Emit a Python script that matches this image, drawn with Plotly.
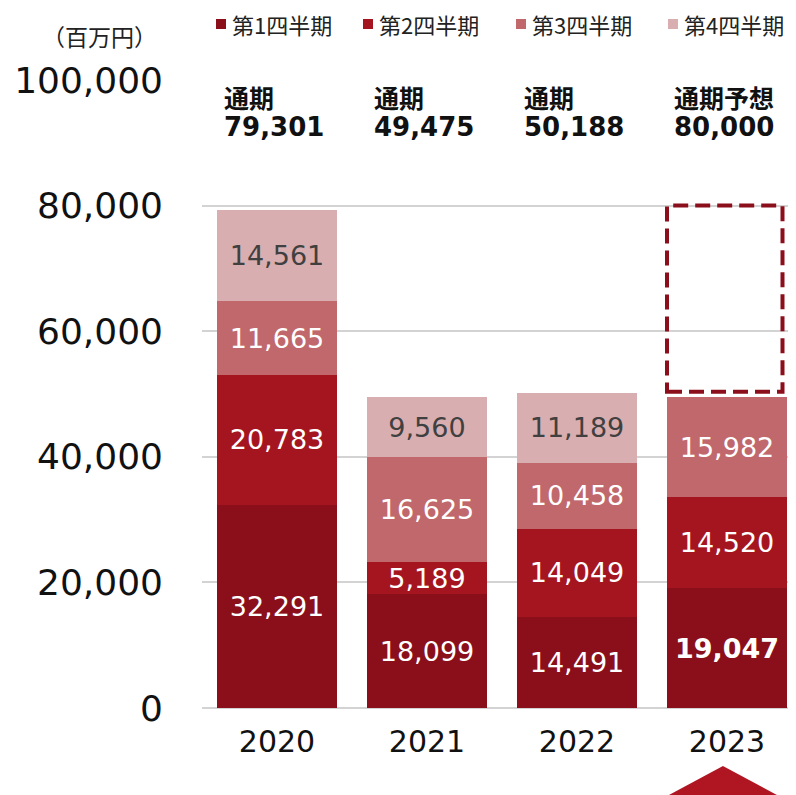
import plotly.graph_objects as go

years = ["2020", "2021", "2022", "2023"]
q1 = [32291, 18099, 14491, 19047]
q2 = [20783, 5189, 14049, 14520]
q3 = [11665, 16625, 10458, 15982]
q4 = [14561, 9560, 11189, None]
series_names = ["第1四半期", "第2四半期", "第3四半期", "第4四半期"]
total_labels = ["通期", "通期", "通期", "通期予想"]
totals = [79301, 49475, 50188, 80000]
forecast_index = 3
y_ticks = [0, 20000, 40000, 60000, 80000, 100000]

colors = ["#8A0F1A", "#A5151F", "#C0686B", "#D9AEB0"]
text_colors = ["white", "white", "white", "#404040"]
FONT = "DejaVu Sans, Noto Sans CJK JP, sans-serif"
CJK = "Noto Sans CJK JP, DejaVu Sans, sans-serif"

# page offset of the plotly div (body margin) is 8px
PL, PT, PW, PH = 202, 80, 594, 628  # plot area in page pixels

fig = go.Figure()
for k, vals in enumerate([q1, q2, q3, q4]):
    texts = []
    for i, v in enumerate(vals):
        if v is None:
            texts.append("")
        elif k == 0 and i == forecast_index:
            texts.append("<b>{:,}</b>".format(v))
        else:
            texts.append("{:,}".format(v))
    fig.add_trace(go.Bar(
        x=years, y=vals, name=series_names[k],
        marker=dict(color=colors[k], line=dict(width=0)),
        text=texts, textposition="inside", insidetextanchor="middle",
        textangle=0, constraintext="none",
        textfont=dict(family=FONT, size=27, color=text_colors[k]),
        hoverinfo="skip", showlegend=False,
    ))

# forecast dashed box
base_2023 = q1[forecast_index] + q2[forecast_index] + q3[forecast_index]
fig.add_shape(type="rect", xref="x", yref="y",
              x0=forecast_index - 0.4, x1=forecast_index + 0.37,
              y0=base_2023 + 800, y1=totals[forecast_index],
              line=dict(color="#8A0F1A", width=4, dash="15px,7px"),
              fillcolor="rgba(0,0,0,0)", layer="above")


def px_x(p):
    return (p - PL) / PW


def px_y(p):
    return (PT + PH - p) / PH


# triangle marker under 2023
fig.add_shape(type="path", xref="x", yref="paper",
              path="M {a},{ya} L {b},{yb} L {c},{yb} Z".format(
                  a=forecast_index - 0.027, ya=px_y(766),
                  b=forecast_index - 0.387, c=forecast_index + 0.333, yb=px_y(795)),
              fillcolor="#B01622", line=dict(width=0), layer="above")

annotations = []
for i, yr in enumerate(years):
    annotations.append(dict(x=i - 0.37, y=px_y(97), xref="x", yref="paper",
                            text="<b>" + total_labels[i] + "</b>", showarrow=False,
                            xanchor="left", yanchor="middle",
                            font=dict(family=CJK, size=25, color="#111111")))
    annotations.append(dict(x=i - 0.37, y=px_y(127), xref="x", yref="paper",
                            text="<b>{:,}</b>".format(totals[i]), showarrow=False,
                            xanchor="left", yanchor="middle",
                            font=dict(family=FONT, size=26, color="#111111")))

# legend (squares + labels)
leg_px = [216, 363, 516, 668]
for k, name in enumerate(series_names):
    fig.add_shape(type="rect", xref="paper", yref="paper",
                  x0=px_x(leg_px[k]), x1=px_x(leg_px[k] + 10),
                  y0=px_y(29), y1=px_y(19),
                  fillcolor=colors[k], line=dict(width=0))
    annotations.append(dict(x=px_x(leg_px[k] + 14), y=px_y(24),
                            xref="paper", yref="paper", text=name, showarrow=False,
                            xanchor="left", yanchor="middle",
                            font=dict(family=CJK, size=22, color="#222222")))

annotations.append(dict(x=px_x(99), y=px_y(36), xref="paper", yref="paper",
                        text="（百万円）", showarrow=False, xanchor="center", yanchor="middle",
                        font=dict(family=CJK, size=23, color="#222222")))

W, H = 788, 787
fig.update_layout(
    barmode="stack", bargap=0.2,
    width=W, height=H,
    margin=dict(l=PL - 8, r=W - (PL - 8) - PW, t=PT - 8, b=H - (PT - 8) - PH, pad=0),
    paper_bgcolor="white", plot_bgcolor="white",
    font=dict(family=FONT, color="#111111"),
    annotations=annotations,
    uniformtext=dict(minsize=27, mode="show"),
)
fig.update_xaxes(range=[-0.5, 3.46], showgrid=False, showline=False, zeroline=False,
                 tickfont=dict(family=FONT, size=30, color="#111111"),
                 ticks="", ticklabelstandoff=13)
fig.update_yaxes(range=[0, 100000], tickvals=y_ticks, tickformat=",",
                 showgrid=True, gridcolor="#d3d3d3", gridwidth=1.5,
                 zeroline=True, zerolinecolor="#d3d3d3", zerolinewidth=2,
                 showline=False, ticks="",
                 tickfont=dict(family=FONT, size=36, color="#111111"),
                 ticklabelstandoff=38)

fig.write_html("out.html")
